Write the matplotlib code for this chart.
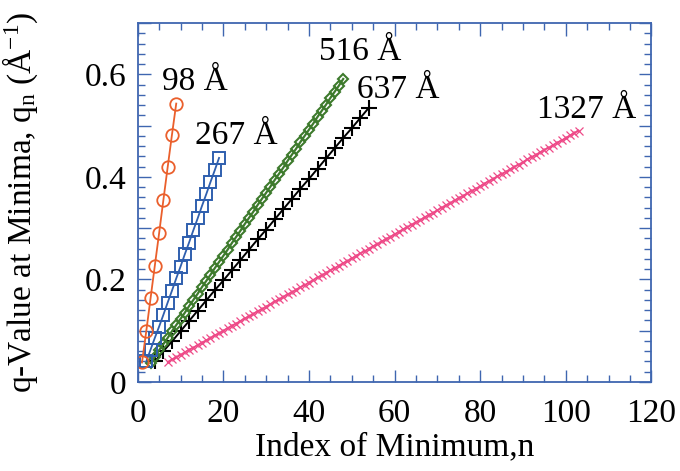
import matplotlib
matplotlib.use("Agg")
import matplotlib.pyplot as plt
from matplotlib.ticker import MultipleLocator, FixedFormatter, FixedLocator

plt.rcParams['font.family'] = ['Liberation Serif', 'DejaVu Serif']
plt.rcParams['mathtext.fontset'] = 'custom'
plt.rcParams['mathtext.rm'] = 'Liberation Serif'
plt.rcParams['mathtext.it'] = 'Liberation Serif:italic'

# 98 A film
n_98 = [1, 2, 3, 4, 5, 6, 7, 8, 9]
q_98 = [0.038, 0.099, 0.163, 0.227, 0.290, 0.355, 0.419, 0.482, 0.543]

# 267 A film
n_267 = [2, 3, 4, 5, 6, 7, 8, 9, 10, 11, 12, 13, 14, 15, 16, 17, 18, 19]
q_267 = [0.040, 0.063, 0.086, 0.108, 0.131, 0.155, 0.178, 0.202, 0.225,
         0.249, 0.272, 0.296, 0.319, 0.343, 0.366, 0.390, 0.413, 0.437]

# 516 A film
n_516 = [3, 4, 5, 6, 7, 8, 9, 10, 11, 12, 13, 14, 15, 16, 17, 18, 19, 20,
         21, 22, 23, 24, 25, 26, 27, 28, 29, 30, 31, 32, 33, 34, 35, 36, 37,
         38, 39, 40, 41, 42, 43, 44, 45, 46, 47, 48]
q_516 = [0.037, 0.049, 0.062, 0.074, 0.086, 0.099, 0.111, 0.123, 0.135,
         0.148, 0.160, 0.172, 0.185, 0.197, 0.209, 0.222, 0.234, 0.246,
         0.258, 0.271, 0.283, 0.295, 0.308, 0.320, 0.332, 0.345, 0.357,
         0.369, 0.381, 0.394, 0.406, 0.418, 0.431, 0.443, 0.455, 0.468,
         0.480, 0.492, 0.504, 0.517, 0.529, 0.541, 0.554, 0.566, 0.578,
         0.591]

# 637 A film
n_637 = [4, 6, 8, 10, 12, 14, 16, 18, 20, 22, 24, 26, 28, 30, 32, 34, 36,
         38, 40, 42, 44, 46, 48, 50, 52, 54]
q_637 = [0.040, 0.060, 0.079, 0.099, 0.119, 0.139, 0.159, 0.179, 0.198,
         0.218, 0.238, 0.258, 0.278, 0.297, 0.317, 0.337, 0.357, 0.377,
         0.396, 0.416, 0.436, 0.456, 0.476, 0.495, 0.515, 0.535]

# 1327 A film
n_1327 = [7, 8, 9, 10, 11, 12, 13, 14, 15, 16, 17, 18, 19, 20, 21, 22, 23,
          24, 25, 26, 27, 28, 29, 30, 31, 32, 33, 34, 35, 36, 37, 38, 39, 40,
          41, 42, 43, 44, 45, 46, 47, 48, 49, 50, 51, 52, 53, 54, 55, 56, 57,
          58, 59, 60, 61, 62, 63, 64, 65, 66, 67, 68, 69, 70, 71, 72, 73, 74,
          75, 76, 77, 78, 79, 80, 81, 82, 83, 84, 85, 86, 87, 88, 89, 90, 91,
          92, 93, 94, 95, 96, 97, 98, 99, 100, 101, 102, 103]
q_1327 = [0.039, 0.044, 0.048, 0.053, 0.058, 0.063, 0.067, 0.072, 0.077,
          0.081, 0.086, 0.091, 0.095, 0.100, 0.105, 0.110, 0.114, 0.119,
          0.124, 0.128, 0.133, 0.138, 0.142, 0.147, 0.152, 0.157, 0.161,
          0.166, 0.171, 0.175, 0.180, 0.185, 0.189, 0.194, 0.199, 0.204,
          0.208, 0.213, 0.218, 0.222, 0.227, 0.232, 0.236, 0.241, 0.246,
          0.251, 0.255, 0.260, 0.265, 0.269, 0.274, 0.279, 0.283, 0.288,
          0.293, 0.298, 0.302, 0.307, 0.312, 0.316, 0.321, 0.326, 0.330,
          0.335, 0.340, 0.345, 0.349, 0.354, 0.359, 0.363, 0.368, 0.373,
          0.377, 0.382, 0.387, 0.392, 0.396, 0.401, 0.406, 0.410, 0.415,
          0.420, 0.424, 0.429, 0.434, 0.439, 0.443, 0.448, 0.453, 0.457,
          0.462, 0.467, 0.471, 0.476, 0.481, 0.486, 0.490]

labels = ["98 Å", "267 Å", "516 Å", "637 Å", "1327 Å"]
label_pos = [(5.6, 0.569), (13.4, 0.465), (42.4, 0.628), (51.2, 0.553), (93.2, 0.514)]

axis_col = '#3f66b0'

fig = plt.figure(figsize=(6.8, 4.71), dpi=100)
ax = fig.add_axes([0.2025, 0.189, 0.7555, 0.762])

ax.plot(n_1327, q_1327, color='#ee4a88', lw=1.3, marker='x', ms=6, mew=0.9)
ax.plot(n_637, q_637, color='black', lw=1.4, marker='+', ms=12, mew=1.5)
ax.plot(n_516, q_516, color='#3d7a2c', lw=1.6, marker='D', ms=5,
        mfc='none', mew=1.5)
ax.plot(n_267, q_267, color='#2f5fae', lw=1.3, marker='s', ms=8,
        mfc='none', mew=1.4)
ax.plot(n_98, q_98, color='#ea5f2c', lw=1.3, marker='o', ms=9,
        mfc='none', mew=1.3)

for txt, (x, y) in zip(labels, label_pos):
    ax.text(x, y, txt, fontsize=24, ha='left', va='baseline')

ax.set_xlim(0, 120)
ax.set_ylim(0, 0.7)
ax.xaxis.set_major_locator(MultipleLocator(20))
ax.xaxis.set_minor_locator(MultipleLocator(5))
ax.yaxis.set_major_locator(FixedLocator([0, 0.1, 0.2, 0.3, 0.4, 0.5, 0.6, 0.7]))
ax.yaxis.set_major_formatter(FixedFormatter(['0', '', '0.2', '', '0.4', '', '0.6', '']))
ax.yaxis.set_minor_locator(MultipleLocator(0.02))

for s in ax.spines.values():
    s.set_color(axis_col)
    s.set_linewidth(1.3)
ax.tick_params(which='both', direction='in', top=True, right=True,
               color=axis_col, width=1.0, labelsize=24)
ax.tick_params(which='major', length=9)
ax.tick_params(which='minor', length=5)
ax.tick_params(axis='x', pad=12)
ax.tick_params(axis='y', pad=8)

ax.set_xlabel("Index of Minimum,n", fontsize=24, labelpad=2)
ax.set_ylabel(r"q-Value at Minima, q$_\mathregular{n}$ (Å$^\mathregular{-1}$)", fontsize=24)
ax.yaxis.set_label_coords(-0.19, 0.5)

fig.savefig("out.png", dpi=100)
